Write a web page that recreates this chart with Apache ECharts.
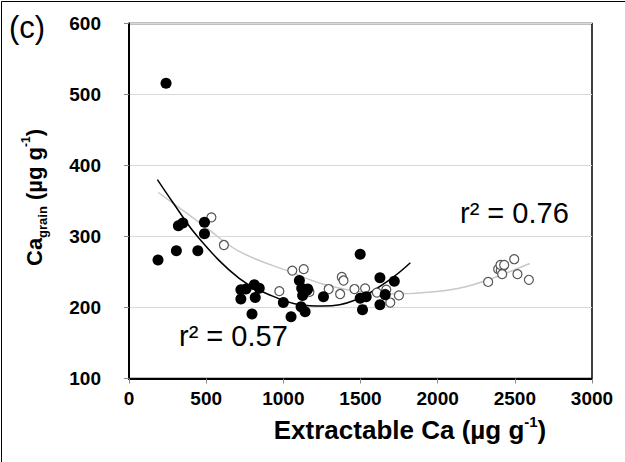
<!DOCTYPE html>
<html>
<head>
<meta charset="utf-8">
<script src="https://cdn.jsdelivr.net/npm/echarts@6/dist/echarts.min.js"></script>
<style>
html,body{margin:0;padding:0;background:#fff;}
#chart{width:625px;height:462px;}
</style>
</head>
<body>
<div id="chart"></div>
<script>
// Filled circles (black)
const filledX = [188,240,307,320,349,446,489,489,725,758,725,812,844,818,797,1000,1050,1104,1119,1151,1125,1158,1115,1141,1260,1498,1498,1537,1513,1626,1626,1660,1719];
const filledY = [267,516,280,315,319,280,320,304,225,226,212,232,227,214,191,207,187,238,227,224,217,226,201,194,215,275,213,215,197,242,204,218,237];
// Open circles
const openX = [534,615,974,1058,1132,1169,1294,1368,1379,1390,1461,1530,1606,1667,1660,1693,1749,2327,2392,2409,2424,2407,2431,2418,2496,2517,2591];
const openY = [327,288,223,252,254,222,226,219,243,238,226,227,221,225,219,207,217,236,254,252,258,260,260,247,268,247,239];
// Trend curves
const blackFitX = [184,281,444,714,931,1104,1255,1471,1688,1823];
const blackFitY = [380,349,300,241,216,204,202,211,239,263];
const grayFitX = [190,498,714,1058,1255,1471,1688,2013,2229,2597];
const grayFitY = [362,313,279,249,233,223,219,223,232,262];
const xTicks = [0,500,1000,1500,2000,2500,3000];
const yTicks = [100,200,300,400,500,600];
const r2Open = 'r² = 0.76';
const r2Filled = 'r² = 0.57';

const zip = (a,b) => a.map((v,i)=>[v,b[i]]);
const chart = echarts.init(document.getElementById('chart'), null, {renderer:'svg'});
const FONT = '"Liberation Sans", Arial, sans-serif';
chart.setOption({
  animation:false,
  backgroundColor:'#fff',
  grid:{left:129,right:33,top:23.5,bottom:83.5,show:true,borderColor:'#000',borderWidth:1.5,backgroundColor:'transparent'},
  xAxis:{type:'value',min:xTicks[0],max:xTicks[xTicks.length-1],interval:500,
    axisLine:{show:true,lineStyle:{color:'#000',width:2}},
    axisTick:{show:true,inside:false,length:5,lineStyle:{color:'#888'}},
    splitLine:{show:false},
    axisLabel:{color:'#000',fontWeight:'bold',fontSize:19,fontFamily:FONT,margin:10,formatter:v=>String(v)}},
  yAxis:{type:'value',min:yTicks[0],max:yTicks[yTicks.length-1],interval:100,
    axisLine:{show:true,lineStyle:{color:'#000',width:2}},
    axisTick:{show:true,inside:false,length:5,lineStyle:{color:'#888'}},
    splitLine:{show:true,lineStyle:{color:'#d9d9d9',width:1}},
    axisLabel:{color:'#000',fontWeight:'bold',fontSize:19,fontFamily:FONT,margin:28,formatter:v=>String(v)}},
  graphic:[
    {type:'rect',shape:{x:1.5,y:1.5,width:700,height:600},style:{fill:'none',stroke:'#000',lineWidth:1},silent:true,z:-1},
    {type:'text',x:9,y:27,style:{text:'(c)',font:'31px '+FONT,fill:'#000',verticalAlign:'middle'}},
    {type:'text',x:460,y:213,style:{text:r2Open,font:'29px '+FONT,fill:'#000',verticalAlign:'middle'}},
    {type:'text',x:179,y:336,style:{text:r2Filled,font:'29px '+FONT,fill:'#000',verticalAlign:'middle'}},
    {type:'text',x:410,y:428,style:{text:'{m|Extractable Ca (µg g}{s|-1}{m|)}',align:'center',verticalAlign:'middle',
      rich:{m:{fontSize:26,fontWeight:'bold',fontFamily:FONT,fill:'#000',lineHeight:29,verticalAlign:'bottom'},
            s:{fontSize:15,fontWeight:'bold',fontFamily:FONT,fill:'#000',lineHeight:29,verticalAlign:'top'}}}},
    {type:'text',x:34,y:266,rotation:Math.PI/2,style:{text:'{m|Ca}{b|grain}{m| (µg g}{s|-1}{m|)}',align:'left',verticalAlign:'middle',
      rich:{m:{fontSize:22,fontWeight:'bold',fontFamily:FONT,fill:'#000',lineHeight:29,verticalAlign:'middle'},
            b:{fontSize:13,fontWeight:'bold',fontFamily:FONT,fill:'#000',lineHeight:29,verticalAlign:'bottom'},
            s:{fontSize:12,fontWeight:'bold',fontFamily:FONT,fill:'#000',lineHeight:25,verticalAlign:'top'}}}}
  ],
  series:[
    {type:'line',data:zip(grayFitX,grayFitY),smooth:0.4,showSymbol:false,symbol:'none',lineStyle:{color:'#c8c8c8',width:1.5},z:1},
    {type:'line',data:zip(blackFitX,blackFitY),smooth:0.4,showSymbol:false,symbol:'none',lineStyle:{color:'#000',width:1.5},z:1},
    {type:'scatter',data:zip(openX,openY),symbol:'circle',symbolSize:9,itemStyle:{color:'#fff',borderColor:'#555',borderWidth:1.2,opacity:1},z:2},
    {type:'scatter',data:zip(filledX,filledY),symbol:'circle',symbolSize:11,itemStyle:{color:'#000',opacity:1},z:3}
  ]
});
</script>
</body>
</html>
